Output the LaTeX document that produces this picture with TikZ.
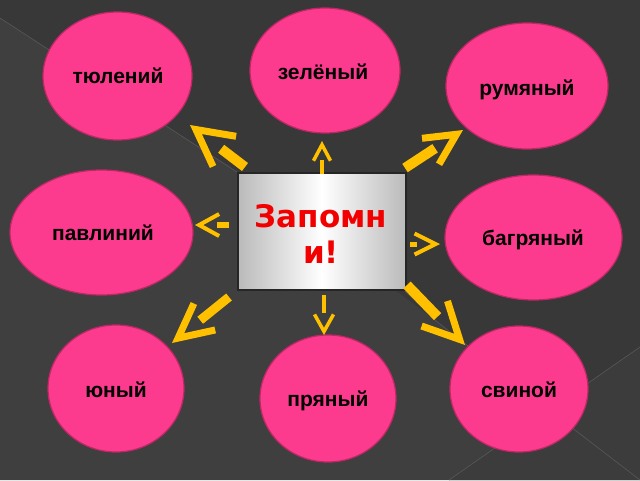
\documentclass[tikz,border=0pt]{standalone}
\usepackage{fontspec}
\setmainfont{Liberation Sans}
\newfontfamily\dejabold{DejaVu Sans}
\usetikzlibrary{shapes.geometric,arrows.meta}
\definecolor{bgbase}{RGB}{60,60,60}
\definecolor{bgdark}{RGB}{56,56,56}
\definecolor{bglight}{RGB}{63,63,63}
\definecolor{bgline}{RGB}{88,88,88}
\definecolor{pinkfill}{RGB}{252,58,142}
\definecolor{pinkedge}{RGB}{190,40,100}
\definecolor{arrowyellow}{RGB}{255,192,0}
\definecolor{memored}{RGB}{242,0,0}
\tikzset{
  blob/.style={ellipse, draw=pinkedge, line width=1.2pt, fill=pinkfill, inner sep=0pt},
  word/.style={font=\bfseries\fontsize{21}{25}\selectfont, text=black, anchor=base, inner sep=0pt},
  memobox/.style={rectangle, draw=black!85, line width=2pt, inner sep=0pt, minimum width=168pt, minimum height=117pt,
    left color=black!27, right color=black!27, middle color=white},
  bigarrow/.style={draw=arrowyellow, line width=10pt, dash pattern=on #1 off 2000pt},
  smallarrow/.style={draw=arrowyellow, line width=5pt, dash pattern=on #1 off 2000pt}
}
\begin{document}
\begin{tikzpicture}[x=1pt,y=-1pt]
\useasboundingbox (0,0) rectangle (640,480);
% background
\fill[bgdark] (0,0) rectangle (640,480);
\fill[bglight] (0,18) -- (237,172) -- (435,320) -- (640,480) -- (0,480) -- cycle;
\fill[bgbase] (640,347) -- (449,480) -- (640,480) -- cycle;
\draw[bgline, line width=0.6pt] (0,18) -- (237,172);
\draw[bgline, line width=0.6pt] (404,290) -- (435,320) -- (571,427) -- (640,480);
\draw[bgline, line width=0.6pt] (640,347) -- (449,480);
% ellipses
\node[blob, minimum width=149pt, minimum height=128pt] (tyul) at (117.5,76) {};
\node[blob, minimum width=150pt, minimum height=125pt] (zel) at (325,70.5) {};
\node[blob, minimum width=162pt, minimum height=126pt] (rum) at (527,86) {};
\node[blob, minimum width=183pt, minimum height=125pt] (pav) at (101.5,232.5) {};
\node[blob, minimum width=177pt, minimum height=125pt] (bag) at (533.5,237.5) {};
\node[blob, minimum width=136pt, minimum height=127pt] (yun) at (116,388.5) {};
\node[blob, minimum width=136pt, minimum height=127pt] (pry) at (328,398.5) {};
\node[blob, minimum width=138pt, minimum height=126pt] (svi) at (519,389) {};
% words
\node[word] (tyult) at (118,83) {тюлений};
\node[word] (zelt) at (323,79) {зелёный};
\node[word] (rumt) at (527,95) {румяный};
\node[word] (pavt) at (103,240) {павлиний};
\node[word] (bagt) at (533,245) {багряный};
\node[word] (yunt) at (116,397) {юный};
\node[word] (pryt) at (328,406) {пряный};
\node[word] (svit) at (519,397) {свиной};
% central box
\node[memobox] (box) at (322,231.5) {};
\node[font=\dejabold\bfseries\fontsize{31}{36}\selectfont, text=memored, align=center, inner sep=0pt] (boxt) at (321,234) {Запомн\\и!};
% arrow anchors
\coordinate (s1) at (245,167); \coordinate (t1) at (190,125);
\coordinate (s2) at (405,168); \coordinate (t2) at (463,130);
\coordinate (s3) at (322,174); \coordinate (t3) at (322,141);
\coordinate (s4) at (229,225); \coordinate (t4) at (195,225);
\coordinate (s5) at (410,244); \coordinate (t5) at (440,244);
\coordinate (s6) at (324,295); \coordinate (t6) at (324,335);
\coordinate (s7) at (229,297); \coordinate (t7) at (172,343);
\coordinate (s8) at (407,285); \coordinate (t8) at (465,345);
% arrows
\draw[bigarrow=30pt, -{Straight Barb[length=36pt, width=38pt, line width=7pt, sharp]}] (s1) -- (t1);
\draw[bigarrow=36pt, -{Straight Barb[length=31pt, width=31pt, line width=7pt, sharp]}] (s2) -- (t2);
\draw[smallarrow=14pt, line width=4.5pt, -{Straight Barb[length=16pt, width=17pt, line width=3.5pt, sharp]}] (s3) -- (t3);
\draw[smallarrow=12pt, line width=6pt, -{Straight Barb[length=20pt, width=22pt, line width=4pt, sharp]}] (s4) -- (t4);
\draw[smallarrow=7pt, line width=5pt, -{Straight Barb[length=21pt, width=21pt, line width=4pt, sharp]}] (s5) -- (t5);
\draw[smallarrow=18pt, line width=4.5pt, -{Straight Barb[length=17pt, width=19pt, line width=3.5pt, sharp]}] (s6) -- (t6);
\draw[bigarrow=37pt, line width=9pt, -{Straight Barb[length=34pt, width=34pt, line width=7pt, sharp]}] (s7) -- (t7);
\draw[bigarrow=44pt, -{Straight Barb[length=36pt, width=36pt, line width=7pt, sharp]}] (s8) -- (t8);
\end{tikzpicture}
\end{document}
